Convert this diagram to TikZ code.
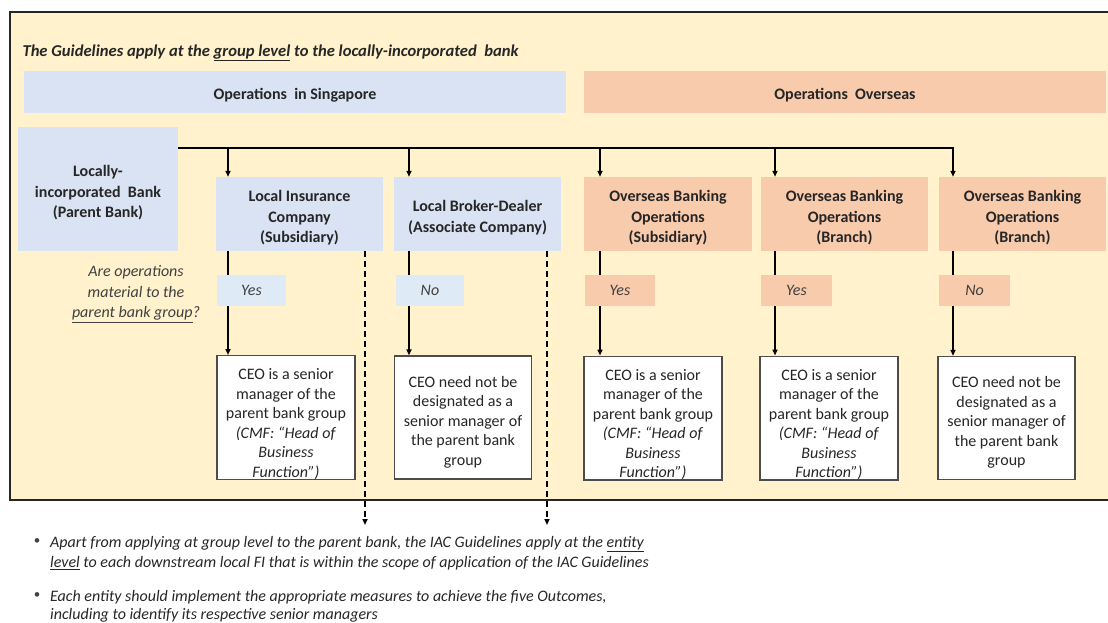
\documentclass[tikz,border=0pt]{standalone}
\usepackage{fontspec}
\setmainfont{Carlito}
\usepackage{tikz}
\usetikzlibrary{arrows.meta}
\usepackage{xcolor}
\definecolor{paper}{HTML}{FFF2CC}
\definecolor{sgblue}{HTML}{DAE3F3}
\definecolor{sgpale}{HTML}{DEEBF7}
\definecolor{ospeach}{HTML}{F8CBAD}
\definecolor{ink}{HTML}{262626}
\definecolor{soft}{HTML}{404040}
\newcommand{\lift}[1]{\rule{0pt}{#1}}

\begin{document}
\begin{tikzpicture}[x=1pt,y=-1pt,>={Triangle[length=6pt,width=5pt]},line cap=butt,
  font=\fontsize{16}{19.5}\selectfont,text=ink,
  band/.style={inner sep=0pt,font=\fontsize{16}{19.5}\selectfont\bfseries,minimum height=42,
    execute at begin node={\rule{0pt}{18pt}}},
  entity/.style={inner sep=0pt,align=center,font=\fontsize{16}{20.5}\selectfont\bfseries,minimum height=74},
  answer/.style={inner sep=0pt,font=\fontsize{16}{19.5}\selectfont\itshape,text=soft,minimum height=31},
  ceo/.style={draw=gray!60!black,line width=1.3pt,fill=white,inner sep=0pt,align=center,minimum height=123},
  link/.style={line width=1.5pt,black},
  hint/.style={line width=1.5pt,black,dash pattern=on 6pt off 4pt}]
\useasboundingbox (0,0) rectangle (1108,623);
% background panel
\fill[paper] (10,12) rectangle (1112,500);
\draw[line width=2pt,gray!30!black] (1112,12) -- (10,12) -- (10,500) -- (1112,500);
\node[anchor=west,font=\fontsize{16.6}{19.5}\selectfont\bfseries\itshape] (title) at (19,53)
  {The Guidelines apply at the \underline{group level} to the locally-incorporated\ \ bank};
\node[band,fill=sgblue,minimum width=542] (sg) at (295,92) {Operations\ \ in Singapore};
\node[band,fill=ospeach,minimum width=522] (os) at (845,92) {Operations\ \ Overseas};
% entities
\node[entity,fill=sgblue,minimum width=160,minimum height=124] (parent) at (98,189)
  {\lift{19pt}Locally-\\incorporated\ \ Bank\\(Parent Bank)};
\node[entity,fill=sgblue,minimum width=167] (ins) at (299.5,214) {\lift{19pt}Local Insurance\\Company\\(Subsidiary)};
\node[entity,fill=sgblue,minimum width=167] (brk) at (477.5,214) {\lift{19pt}Local Broker-Dealer\\(Associate Company)};
\node[entity,fill=ospeach,minimum width=168] (sub) at (668,214) {\lift{19pt}Overseas Banking\\Operations\\(Subsidiary)};
\node[entity,fill=ospeach,minimum width=167] (brA) at (844.5,214) {\lift{19pt}Overseas Banking\\Operations\\(Branch)};
\node[entity,fill=ospeach,minimum width=167] (brB) at (1022.5,214) {\lift{19pt}Overseas Banking\\Operations\\(Branch)};
% outcomes
\node[ceo,minimum width=138] (ceoA) at (286,417.5)
  {\lift{24pt}CEO is a senior\\manager of the\\parent bank group\\\textit{(CMF: “Head of}\\\textit{Business}\\\textit{Function”)}};
\node[ceo,minimum width=137] (ceoB) at (463,417.5)
  {\lift{20pt}CEO need not be\\designated as a\\senior manager of\\the parent bank\\group};
\node[ceo,minimum width=138] (ceoC) at (653,418)
  {\lift{24pt}CEO is a senior\\manager of the\\parent bank group\\\textit{(CMF: “Head of}\\\textit{Business}\\\textit{Function”)}};
\node[ceo,minimum width=138] (ceoD) at (829,418)
  {\lift{24pt}CEO is a senior\\manager of the\\parent bank group\\\textit{(CMF: “Head of}\\\textit{Business}\\\textit{Function”)}};
\node[ceo,minimum width=137] (ceoE) at (1006.5,418)
  {\lift{20pt}CEO need not be\\designated as a\\senior manager of\\the parent bank\\group};
% drop points on the bus
\coordinate (dA) at (228,148);
\coordinate (dB) at (409,148);
\coordinate (dC) at (600,148);
\coordinate (dD) at (775,148);
\coordinate (dE) at (953,148);
\draw[link,->] (parent.east |- dE) -- (dE) -- (dE |- brB.north);
\draw[link,->] (dA) -- (dA |- ins.north);
\draw[link,->] (dB) -- (dB |- brk.north);
\draw[link,->] (dC) -- (dC |- sub.north);
\draw[link,->] (dD) -- (dD |- brA.north);
\draw[link,->] (dA |- ins.south) -- (dA |- ceoA.north);
\draw[link,->] (dB |- brk.south) -- (dB |- ceoB.north);
\draw[link,->] (dC |- sub.south) -- (dC |- ceoC.north);
\draw[link,->] (dD |- brA.south) -- (dD |- ceoD.north);
\draw[link,->] (dE |- brB.south) -- (dE |- ceoE.north);
% entity-level pointers
\coordinate (eA) at (365,525);
\coordinate (eB) at (547,525);
\draw[hint,->] (eA |- ins.south) -- (eA);
\draw[hint,->] (eB |- brk.south) -- (eB);
% answers
\node[answer,fill=sgpale,minimum width=69] (yesA) at (251.5,290.5) {Yes};
\node[answer,fill=sgpale,minimum width=68] (noB) at (430,290.5) {No};
\node[answer,fill=ospeach,minimum width=70] (yesC) at (620,290.5) {Yes};
\node[answer,fill=ospeach,minimum width=71] (yesD) at (796.5,290.5) {Yes};
\node[answer,fill=ospeach,minimum width=71] (noE) at (974.5,290.5) {No};
\node[align=center,font=\fontsize{16}{20.5}\selectfont\itshape,text=soft,inner sep=0pt] (ask) at (136,294)
  {Are operations\\material to the\\\underline{parent bank group}?};
% notes
\node[anchor=north west,align=left,inner sep=0pt,font=\fontsize{16}{20}\selectfont\itshape] (noteA) at (50,536)
  {Apart from applying at group level to the parent bank, the IAC Guidelines apply at the \underline{entity}\\
   \underline{level} to each downstream local FI that is within the scope of application of the IAC Guidelines};
\node[anchor=north west,align=left,inner sep=0pt,font=\fontsize{16}{18}\selectfont\itshape] (noteB) at (50,590)
  {Each entity should implement the appropriate measures to achieve the five Outcomes,\\
   including to identify its respective senior managers};
\node[inner sep=0pt,text=soft,font=\fontsize{13}{13}\selectfont] (dotA) at ([xshift=-13pt,yshift=-6pt]noteA.north west) {\textbullet};
\node[inner sep=0pt,text=soft,font=\fontsize{13}{13}\selectfont] (dotB) at ([xshift=-13pt,yshift=-6pt]noteB.north west) {\textbullet};
\end{tikzpicture}
\end{document}
